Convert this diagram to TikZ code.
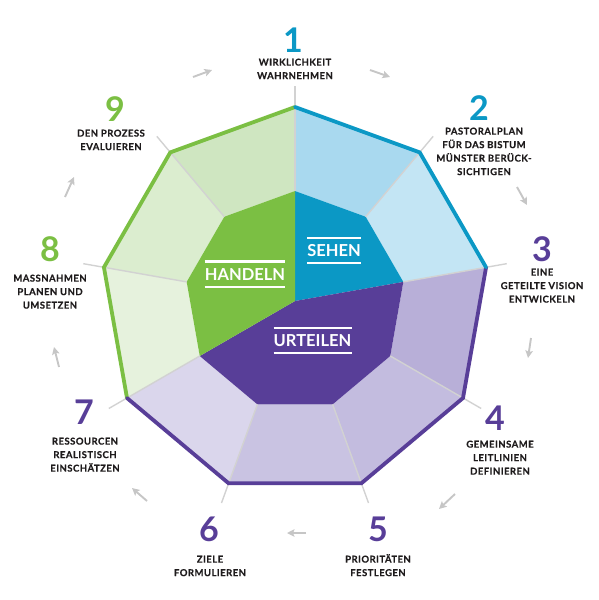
\documentclass[tikz,border=0pt]{standalone}
\usepackage{fontspec}
\setmainfont{Lato}
\newfontfamily\labfont[LetterSpace=5,BoldFeatures={FakeBold=0.4}]{Lato}
\usetikzlibrary{calc,arrows.meta}
\definecolor{cblue}{HTML}{0B98C5}
\definecolor{cpurple}{HTML}{583E98}
\definecolor{cgreen}{HTML}{7BBF43}
\definecolor{sA}{HTML}{A9D9EF}
\definecolor{sB}{HTML}{C3E5F4}
\definecolor{sC}{HTML}{B8AFD8}
\definecolor{sD}{HTML}{C3BCDF}
\definecolor{sE}{HTML}{C9C3E2}
\definecolor{sF}{HTML}{DAD6EC}
\definecolor{sG}{HTML}{E6F2DD}
\definecolor{sH}{HTML}{DBEDCF}
\definecolor{sI}{HTML}{CFE6C1}
\definecolor{divgray}{HTML}{D2D2D2}
\definecolor{arrgray}{HTML}{C6C6C6}
\definecolor{txt}{HTML}{1E1B1C}
\newcommand{\firststrut}{\rule{0pt}{9pt}}
\begin{document}
\begin{tikzpicture}[x=1pt,y=-1pt,
  divider/.style={draw=divgray,line width=1.4pt},
  border/.style={line width=3.8pt,line cap=round,line join=miter},
  arr/.style={draw=arrgray,line width=1.9pt,-{Stealth[length=7.5pt,width=7.5pt,inset=1.5pt]}},
  num/.style={font=\fontsize{34}{34}\selectfont\bfseries,inner sep=0pt,anchor=base},
  lab/.style={font=\labfont\bfseries\fontsize{9.5}{13.5}\selectfont,align=center,inner sep=0pt,anchor=north,text=txt},
  core/.style={font=\fontsize{16.5}{16.5}\selectfont\bfseries,text=white,inner xsep=0pt,inner ysep=6.5pt,text height=12pt,text depth=0pt},
  bar/.style={draw=white,line width=2.4pt}]
\useasboundingbox (0,0) rectangle (598,600);
\coordinate (c) at (295,301);
\foreach \k in {1,...,9}{
  \pgfmathsetmacro\ang{90-40*(\k-1)}
  \coordinate (o\k) at ({295+194*cos(\ang)},{301-194*sin(\ang)});
  \coordinate (i\k) at ({295+110*cos(\ang)},{301-110*sin(\ang)});
  \coordinate (t\k) at ({295+215*cos(\ang)},{301-215*sin(\ang)});
}
% ring segments
\foreach \k/\n/\col in {1/2/sA,2/3/sB,3/4/sC,4/5/sD,5/6/sE,6/7/sF,7/8/sG,8/9/sH,9/1/sI}
  \fill[\col] (i\k) -- (o\k) -- (o\n) -- (i\n) -- cycle;
% core sectors
\fill[cblue] (c) -- (i1) -- (i2) -- (i3) -- cycle;
\fill[cpurple] (c) -- (i3) -- (i4) -- (i5) -- (i6) -- (i7) -- cycle;
\fill[cgreen] (c) -- (i7) -- (i8) -- (i9) -- (i1) -- cycle;
% dividers
\foreach \k in {1,...,9} \draw[divider] (i\k) -- (t\k);
% outer border
\draw[border,cgreen] (o7) -- (o8) -- (o9) -- (o1);
\draw[border,cpurple] (o3) -- (o4) -- (o5) -- (o6) -- (o7);
\draw[border,cblue] (o1) -- (o2) -- (o3);
% core labels
\node[core] (sehen) at (334,250.5) {SEHEN};
\node[core] (handeln) at (245,274) {HANDELN};
\node[core] (urteilen) at (312.5,340.5) {URTEILEN};
\foreach \n in {sehen,handeln,urteilen}{
  \draw[bar] (\n.north west) -- (\n.north east);
  \draw[bar] (\n.south west) -- (\n.south east);
}
% numbers
\node[num,text=cblue] (n1) at (293,52) {1};
\node[num,text=cblue] (n2) at (479,120) {2};
\node[num,text=cpurple] (n3) at (542,261) {3};
\node[num,text=cpurple] (n4) at (495,430) {4};
\node[num,text=cpurple] (n5) at (378,541.5) {5};
\node[num,text=cpurple] (n6) at (209,541.5) {6};
\node[num,text=cpurple] (n7) at (84,424) {7};
\node[num,text=cgreen] (n8) at (50,261.5) {8};
\node[num,text=cgreen] (n9) at (115,121.5) {9};
% labels
\node[lab] (l1) at (295,56.4) {\firststrut WIRKLICHKEIT\\WAHRNEHMEN};
\node[lab] (l2) at (484,125.4) {\firststrut PASTORALPLAN\\FÜR DAS BISTUM\\MÜNSTER BERÜCK-\\SICHTIGEN};
\node[lab] (l3) at (542,266.4) {\firststrut EINE\\GETEILTE VISION\\ENTWICKELN};
\node[lab] (l4) at (500,438.4) {\firststrut GEMEINSAME\\LEITLINIEN\\DEFINIEREN};
\node[lab] (l5) at (378,553.4) {\firststrut PRIORITÄTEN\\FESTLEGEN};
\node[lab] (l6) at (210,553.4) {\firststrut ZIELE\\FORMULIEREN};
\node[lab] (l7) at (85,435.4) {\firststrut RESSOURCEN\\REALISTISCH\\EINSCHÄTZEN};
\node[lab] (l8) at (50,272.4) {\firststrut MASSNAHMEN\\PLANEN UND\\UMSETZEN};
\node[lab] (l9) at (111,127.4) {\firststrut DEN PROZESS\\EVALUIEREN};
% arrows
\coordinate (a91s) at (193,77);  \coordinate (a91e) at (212,70);
\coordinate (a12s) at (370,70);  \coordinate (a12e) at (390,77);
\coordinate (a23s) at (517,187); \coordinate (a23e) at (527,205);
\coordinate (a34s) at (531,338); \coordinate (a34e) at (528,358);
\coordinate (a45s) at (455,494); \coordinate (a45e) at (439,509);
\coordinate (a56s) at (306,533); \coordinate (a56e) at (287,533);
\coordinate (a67s) at (147,501); \coordinate (a67e) at (132,488);
\coordinate (a78s) at (59,367);  \coordinate (a78e) at (54,347);
\coordinate (a89s) at (65,197);  \coordinate (a89e) at (74,177);
\foreach \p in {a91,a12,a23,a34,a45,a56,a67,a78,a89}
  \draw[arr] (\p s) -- (\p e);
\end{tikzpicture}
\end{document}
